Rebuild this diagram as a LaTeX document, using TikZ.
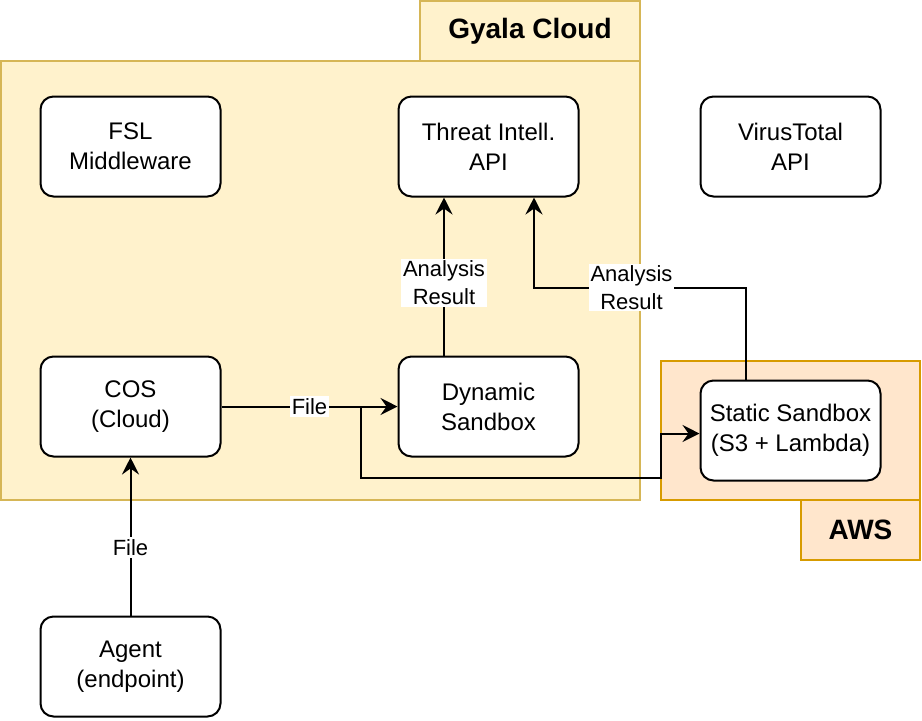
\documentclass[tikz,border=0pt]{standalone}
\usepackage{fontspec}
\setmainfont{Liberation Sans}
\usepackage{xcolor}
\usetikzlibrary{arrows.meta, positioning}

\definecolor{gyalafill}{HTML}{FFF2CC}
\definecolor{gyaladraw}{HTML}{D6B656}
\definecolor{awsfill}{HTML}{FFE6CC}
\definecolor{awsdraw}{HTML}{D79B00}

\tikzset{
    box/.style={draw, fill=white, line width=1pt, rounded corners=6.5pt,
        minimum width=90pt, minimum height=50pt, align=center,
        font=\fontsize{12}{15}\selectfont},
    gyala/.style={draw=gyaladraw, fill=gyalafill, line width=1pt},
    aws/.style={draw=awsdraw, fill=awsfill, line width=1pt},
    tabtext/.style={font=\fontsize{14}{17}\selectfont\bfseries},
    arr/.style={-{Stealth[length=8.5pt, width=8.5pt, inset=3pt]}, line width=1pt},
    lbl/.style={fill=white, inner sep=1pt, align=center,
        font=\fontsize{11}{13.8}\selectfont}
}

\begin{document}
\begin{tikzpicture}[x=0.5pt, y=-0.5pt]
    \useasboundingbox (0, 0) rectangle (922, 720);
    % containers
    \draw[gyala] (1, 61) rectangle (640, 500);
    \draw[gyala] (420, 1) rectangle (640, 61);
    \node[tabtext] (gtitle) at (530, 31) {Gyala Cloud};
    \draw[aws] (661, 361) rectangle (920, 500);
    \draw[aws] (801, 500) rectangle (920, 560);
    \node[tabtext] (atitle) at (860.5, 530) {AWS};

    % services
    \node[box] (fsl) at (130.5, 146.5) {FSL\\Middleware};
    \node[box] (threat) at (488.5, 146.5) {Threat Intell.\\API};
    \node[box] (vt) at (790.5, 146.5) {VirusTotal\\API};
    \node[box] (cos) at (130.5, 406.5) {COS\\(Cloud)};
    \node[box] (dyn) at (488.5, 406.5) {Dynamic\\Sandbox};
    \node[box] (static) at (790.5, 430.5) {Static Sandbox\\(S3 + Lambda)};
    \node[box] (agent) at (130.5, 666.5) {Agent\\(endpoint)};
    \coordinate (split) at (361, 406.5);

    % flows
    \draw[arr] (agent) -- node[lbl, pos=0.43] {File} (cos);
    \draw[arr] (cos) -- node[lbl] {File} (dyn);
    \draw[arr] (split) |- (661, 478) |- ([yshift=-1.5pt]static.west);
    \draw[arr] ([xshift=-22.25pt]dyn.north) -- node[lbl, pos=0.46] {Analysis\\Result}
        ([xshift=-22.25pt]threat.south);
    \draw[arr] ([xshift=-22.25pt]static.north) -- ++(0, -92)
        -| node[lbl, pos=0.27] {Analysis\\Result} ([xshift=22.75pt]threat.south);
\end{tikzpicture}
\end{document}
